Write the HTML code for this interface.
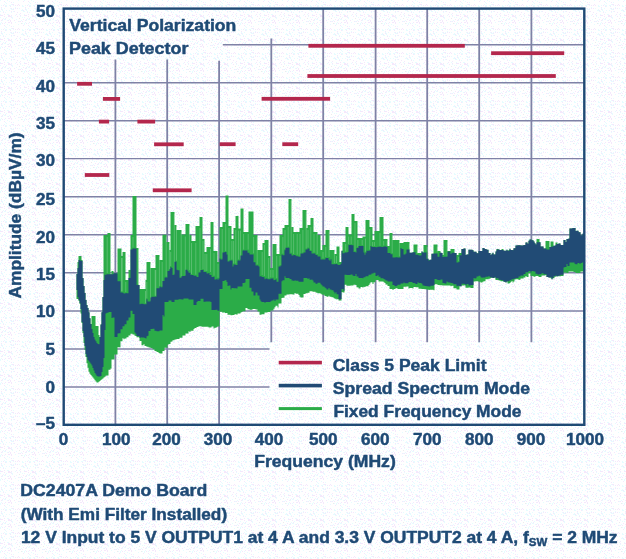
<!DOCTYPE html>
<html><head><meta charset="utf-8"><title>EMI chart</title>
<style>
html,body{margin:0;padding:0;background:#fcfdfe;}
body{width:626px;height:559px;position:relative;overflow:hidden;font-family:"Liberation Sans",Arial,Helvetica,sans-serif;}
svg text{white-space:pre}
</style></head><body>
<svg width="626" height="559" viewBox="0 0 626 559" style="position:absolute;left:0;top:0">
<defs><pattern id="dith" width="24" height="24" patternUnits="userSpaceOnUse"><rect width="24" height="24" fill="#ffffff"/><rect x="19" y="8" width="1" height="1" fill="#e6fcff"/><rect x="23" y="11" width="1" height="1" fill="#e6fcff"/><rect x="22" y="23" width="1" height="1" fill="#e6fcff"/><rect x="20" y="16" width="1" height="1" fill="#e6fcff"/><rect x="0" y="14" width="1" height="1" fill="#e6fcff"/><rect x="7" y="20" width="1" height="1" fill="#e6fcff"/><rect x="1" y="5" width="1" height="1" fill="#e6fcff"/><rect x="3" y="11" width="1" height="1" fill="#e6fcff"/><rect x="15" y="7" width="1" height="1" fill="#e6fcff"/><rect x="12" y="17" width="1" height="1" fill="#e6fcff"/><rect x="3" y="18" width="1" height="1" fill="#e6fcff"/><rect x="7" y="0" width="1" height="1" fill="#e6fcff"/><rect x="23" y="6" width="1" height="1" fill="#e6fcff"/><rect x="13" y="8" width="1" height="1" fill="#e6fcff"/><rect x="5" y="12" width="1" height="1" fill="#e6fcff"/><rect x="5" y="2" width="1" height="1" fill="#e6fcff"/><rect x="4" y="19" width="1" height="1" fill="#e6fcff"/><rect x="19" y="14" width="1" height="1" fill="#e6fcff"/><rect x="4" y="4" width="1" height="1" fill="#e6fcff"/><rect x="0" y="0" width="1" height="1" fill="#e6fcff"/><rect x="6" y="6" width="1" height="1" fill="#e6fcff"/><rect x="5" y="5" width="1" height="1" fill="#e6fcff"/><rect x="9" y="10" width="1" height="1" fill="#e6fcff"/><rect x="6" y="17" width="1" height="1" fill="#e6fcff"/><rect x="21" y="20" width="1" height="1" fill="#e6fcff"/><rect x="6" y="5" width="1" height="1" fill="#e6fcff"/><rect x="22" y="6" width="1" height="1" fill="#e6fcff"/><rect x="12" y="9" width="1" height="1" fill="#e6fcff"/><rect x="0" y="11" width="1" height="1" fill="#e6fcff"/><rect x="13" y="5" width="1" height="1" fill="#e6fcff"/><rect x="4" y="8" width="1" height="1" fill="#e6fcff"/><rect x="2" y="10" width="1" height="1" fill="#e6fcff"/><rect x="9" y="19" width="1" height="1" fill="#e6fcff"/><rect x="18" y="0" width="1" height="1" fill="#e6fcff"/><rect x="19" y="21" width="1" height="1" fill="#e6fcff"/><rect x="22" y="10" width="1" height="1" fill="#e6fcff"/><rect x="2" y="9" width="1" height="1" fill="#e6fcff"/><rect x="11" y="9" width="1" height="1" fill="#e6fcff"/><rect x="15" y="22" width="1" height="1" fill="#e6fcff"/><rect x="10" y="5" width="1" height="1" fill="#e6fcff"/><rect x="15" y="15" width="1" height="1" fill="#e6fcff"/><rect x="22" y="5" width="1" height="1" fill="#e6fcff"/><rect x="1" y="8" width="1" height="1" fill="#e6fcff"/><rect x="0" y="23" width="1" height="1" fill="#e6fcff"/><rect x="11" y="12" width="1" height="1" fill="#e6fcff"/><rect x="0" y="17" width="1" height="1" fill="#e6fcff"/><rect x="13" y="11" width="1" height="1" fill="#e6fcff"/><rect x="12" y="18" width="1" height="1" fill="#e6fcff"/><rect x="1" y="22" width="1" height="1" fill="#e6fcff"/><rect x="5" y="19" width="1" height="1" fill="#e6fcff"/><rect x="6" y="3" width="1" height="1" fill="#e6fcff"/><rect x="7" y="14" width="1" height="1" fill="#e6fcff"/><rect x="11" y="16" width="1" height="1" fill="#e6fcff"/><rect x="8" y="14" width="1" height="1" fill="#e6fcff"/><rect x="9" y="1" width="1" height="1" fill="#e6fcff"/><rect x="13" y="2" width="1" height="1" fill="#e6fcff"/><rect x="6" y="10" width="1" height="1" fill="#e6fcff"/><rect x="16" y="19" width="1" height="1" fill="#e6fcff"/><rect x="11" y="4" width="1" height="1" fill="#e6fcff"/><rect x="10" y="8" width="1" height="1" fill="#e6fcff"/><rect x="22" y="17" width="1" height="1" fill="#e6fcff"/><rect x="21" y="10" width="1" height="1" fill="#e6fcff"/><rect x="9" y="5" width="1" height="1" fill="#e6fcff"/><rect x="2" y="20" width="1" height="1" fill="#e6fcff"/><rect x="4" y="23" width="1" height="1" fill="#e6fcff"/><rect x="22" y="9" width="1" height="1" fill="#e6fcff"/><rect x="15" y="5" width="1" height="1" fill="#f4e8fc"/><rect x="23" y="1" width="1" height="1" fill="#f4e8fc"/><rect x="2" y="19" width="1" height="1" fill="#f4e8fc"/><rect x="17" y="12" width="1" height="1" fill="#f4e8fc"/><rect x="1" y="7" width="1" height="1" fill="#f4e8fc"/><rect x="23" y="19" width="1" height="1" fill="#f4e8fc"/><rect x="11" y="8" width="1" height="1" fill="#f4e8fc"/><rect x="14" y="20" width="1" height="1" fill="#f4e8fc"/><rect x="13" y="4" width="1" height="1" fill="#f4e8fc"/><rect x="1" y="20" width="1" height="1" fill="#f4e8fc"/><rect x="1" y="15" width="1" height="1" fill="#f4e8fc"/><rect x="10" y="6" width="1" height="1" fill="#f4e8fc"/><rect x="18" y="4" width="1" height="1" fill="#f4e8fc"/><rect x="20" y="13" width="1" height="1" fill="#f4e8fc"/><rect x="3" y="5" width="1" height="1" fill="#f4e8fc"/><rect x="4" y="1" width="1" height="1" fill="#f4e8fc"/><rect x="13" y="9" width="1" height="1" fill="#f4e8fc"/><rect x="4" y="14" width="1" height="1" fill="#f4e8fc"/><rect x="19" y="5" width="1" height="1" fill="#f4e8fc"/><rect x="16" y="14" width="1" height="1" fill="#f4e8fc"/><rect x="23" y="10" width="1" height="1" fill="#f4e8fc"/><rect x="15" y="8" width="1" height="1" fill="#f4e8fc"/><rect x="9" y="15" width="1" height="1" fill="#f4e8fc"/><rect x="12" y="4" width="1" height="1" fill="#f4e8fc"/><rect x="3" y="12" width="1" height="1" fill="#f4e8fc"/><rect x="17" y="5" width="1" height="1" fill="#f4e8fc"/><rect x="20" y="15" width="1" height="1" fill="#f4e8fc"/><rect x="2" y="15" width="1" height="1" fill="#f4e8fc"/><rect x="8" y="16" width="1" height="1" fill="#f4e8fc"/><rect x="17" y="16" width="1" height="1" fill="#f4e8fc"/><rect x="11" y="2" width="1" height="1" fill="#f4e8fc"/><rect x="11" y="22" width="1" height="1" fill="#f4e8fc"/><rect x="18" y="21" width="1" height="1" fill="#f4e8fc"/><rect x="1" y="9" width="1" height="1" fill="#f4e8fc"/><rect x="11" y="17" width="1" height="1" fill="#f4e8fc"/><rect x="22" y="21" width="1" height="1" fill="#f4e8fc"/><rect x="8" y="15" width="1" height="1" fill="#f4e8fc"/><rect x="8" y="22" width="1" height="1" fill="#f4e8fc"/><rect x="10" y="20" width="1" height="1" fill="#f4e8fc"/><rect x="5" y="18" width="1" height="1" fill="#f4e8fc"/><rect x="0" y="15" width="1" height="1" fill="#f4e8fc"/><rect x="17" y="8" width="1" height="1" fill="#f4e8fc"/><rect x="10" y="21" width="1" height="1" fill="#f4e8fc"/><rect x="9" y="16" width="1" height="1" fill="#f4e8fc"/><rect x="20" y="21" width="1" height="1" fill="#f4e8fc"/><rect x="11" y="11" width="1" height="1" fill="#f4e8fc"/><rect x="8" y="20" width="1" height="1" fill="#f4e8fc"/><rect x="11" y="23" width="1" height="1" fill="#f4e8fc"/><rect x="5" y="22" width="1" height="1" fill="#f4e8fc"/><rect x="14" y="11" width="1" height="1" fill="#f4e8fc"/><rect x="10" y="16" width="1" height="1" fill="#f4e8fc"/><rect x="4" y="16" width="1" height="1" fill="#f4e8fc"/><rect x="5" y="6" width="1" height="1" fill="#f4e8fc"/><rect x="11" y="15" width="1" height="1" fill="#f4e8fc"/><rect x="9" y="22" width="1" height="1" fill="#f4e8fc"/><rect x="2" y="23" width="1" height="1" fill="#f4e8fc"/><rect x="21" y="23" width="1" height="1" fill="#ececec"/><rect x="19" y="18" width="1" height="1" fill="#ececec"/></pattern></defs><rect width="626" height="559" fill="url(#dith)" shape-rendering="crispEdges"/>
<line x1="115.4" y1="59.5" x2="115.4" y2="424.8" stroke="#7f82a6" stroke-width="1.8"/>
<line x1="167.2" y1="59.5" x2="167.2" y2="424.8" stroke="#7f82a6" stroke-width="1.8"/>
<line x1="219.1" y1="60.7" x2="219.1" y2="424.8" stroke="#7f82a6" stroke-width="1.8"/>
<line x1="271.3" y1="38.4" x2="271.3" y2="342.2" stroke="#7f82a6" stroke-width="1.8"/>
<line x1="323.2" y1="8.6" x2="323.2" y2="342.2" stroke="#7f82a6" stroke-width="1.8"/>
<line x1="375.6" y1="8.6" x2="375.6" y2="342.2" stroke="#7f82a6" stroke-width="1.8"/>
<line x1="427.2" y1="8.6" x2="427.2" y2="342.2" stroke="#7f82a6" stroke-width="1.8"/>
<line x1="479.2" y1="8.6" x2="479.2" y2="342.2" stroke="#7f82a6" stroke-width="1.8"/>
<line x1="531.4" y1="8.6" x2="531.4" y2="342.2" stroke="#7f82a6" stroke-width="1.8"/>
<line x1="222.8" y1="44.7" x2="584.3" y2="44.7" stroke="#7f82a6" stroke-width="1.4"/>
<line x1="63.7" y1="82.8" x2="584.3" y2="82.8" stroke="#7f82a6" stroke-width="1.4"/>
<line x1="63.7" y1="120.7" x2="584.3" y2="120.7" stroke="#7f82a6" stroke-width="1.4"/>
<line x1="63.7" y1="158.6" x2="584.3" y2="158.6" stroke="#7f82a6" stroke-width="1.4"/>
<line x1="63.7" y1="196.7" x2="584.3" y2="196.7" stroke="#7f82a6" stroke-width="1.4"/>
<line x1="63.7" y1="234.7" x2="584.3" y2="234.7" stroke="#7f82a6" stroke-width="1.4"/>
<line x1="63.7" y1="272.8" x2="584.3" y2="272.8" stroke="#7f82a6" stroke-width="1.4"/>
<line x1="63.7" y1="311.0" x2="584.3" y2="311.0" stroke="#7f82a6" stroke-width="1.4"/>
<line x1="63.7" y1="349.0" x2="269.5" y2="349.0" stroke="#7f82a6" stroke-width="1.4"/>
<line x1="63.7" y1="387.0" x2="269.5" y2="387.0" stroke="#7f82a6" stroke-width="1.4"/>
<polygon points="76.5,274.0 77.5,274.0 77.5,262.0 78.5,262.0 78.5,256.0 79.5,256.0 79.5,256.0 80.5,256.0 80.5,256.0 81.5,256.0 81.5,260.0 82.5,260.0 82.5,278.0 83.5,278.0 83.5,286.0 84.5,286.0 84.5,293.0 85.5,293.0 85.5,300.0 86.5,300.0 86.5,305.0 87.5,305.0 87.5,308.1 88.5,308.1 88.5,312.3 89.5,312.3 89.5,318.2 90.5,318.2 90.5,324.1 91.5,324.1 91.5,316.0 92.5,316.0 92.5,316.0 93.5,316.0 93.5,316.0 94.5,316.0 94.5,316.0 95.5,316.0 95.5,326.0 96.5,326.0 96.5,326.0 97.5,326.0 97.5,326.0 98.5,326.0 98.5,335.0 99.5,335.0 99.5,337.0 100.5,337.0 100.5,324.4 101.5,324.4 101.5,312.3 102.5,312.3 102.5,297.0 103.5,297.0 103.5,235.0 104.5,235.0 104.5,235.0 105.5,235.0 105.5,235.0 106.5,235.0 106.5,235.0 107.5,235.0 107.5,233.0 108.5,233.0 108.5,233.0 109.5,233.0 109.5,233.0 110.5,233.0 110.5,274.2 111.5,274.2 111.5,271.0 112.5,271.0 112.5,271.0 113.5,271.0 113.5,273.2 114.5,273.2 114.5,273.2 115.5,273.2 115.5,273.2 116.5,273.2 116.5,273.2 117.5,273.2 117.5,248.5 118.5,248.5 118.5,248.5 119.5,248.5 119.5,248.5 120.5,248.5 120.5,248.5 121.5,248.5 121.5,256.0 122.5,256.0 122.5,252.0 123.5,252.0 123.5,252.0 124.5,252.0 124.5,252.0 125.5,252.0 125.5,280.0 126.5,280.0 126.5,280.0 127.5,280.0 127.5,280.0 128.5,280.0 128.5,270.0 129.5,270.0 129.5,270.0 130.5,270.0 130.5,235.0 131.5,235.0 131.5,235.0 132.5,235.0 132.5,196.0 133.5,196.0 133.5,196.0 134.5,196.0 134.5,196.0 135.5,196.0 135.5,196.0 136.5,196.0 136.5,248.0 137.5,248.0 137.5,248.0 138.5,248.0 138.5,285.0 139.5,285.0 139.5,289.0 140.5,289.0 140.5,289.0 141.5,289.0 141.5,289.0 142.5,289.0 142.5,289.0 143.5,289.0 143.5,289.0 144.5,289.0 144.5,289.0 145.5,289.0 145.5,280.0 146.5,280.0 146.5,262.0 147.5,262.0 147.5,262.0 148.5,262.0 148.5,262.0 149.5,262.0 149.5,262.0 150.5,262.0 150.5,268.0 151.5,268.0 151.5,268.0 152.5,268.0 152.5,268.0 153.5,268.0 153.5,268.0 154.5,268.0 154.5,268.0 155.5,268.0 155.5,255.0 156.5,255.0 156.5,255.0 157.5,255.0 157.5,255.0 158.5,255.0 158.5,255.0 159.5,255.0 159.5,260.0 160.5,260.0 160.5,260.0 161.5,260.0 161.5,260.0 162.5,260.0 162.5,234.7 163.5,234.7 163.5,234.7 164.5,234.7 164.5,234.7 165.5,234.7 165.5,234.7 166.5,234.7 166.5,242.0 167.5,242.0 167.5,242.0 168.5,242.0 168.5,242.0 169.5,242.0 169.5,250.0 170.5,250.0 170.5,212.0 171.5,212.0 171.5,212.0 172.5,212.0 172.5,212.0 173.5,212.0 173.5,212.0 174.5,212.0 174.5,225.0 175.5,225.0 175.5,225.0 176.5,225.0 176.5,230.0 177.5,230.0 177.5,230.0 178.5,230.0 178.5,230.0 179.5,230.0 179.5,230.0 180.5,230.0 180.5,230.0 181.5,230.0 181.5,234.5 182.5,234.5 182.5,234.5 183.5,234.5 183.5,234.5 184.5,234.5 184.5,234.5 185.5,234.5 185.5,224.0 186.5,224.0 186.5,224.0 187.5,224.0 187.5,224.0 188.5,224.0 188.5,224.0 189.5,224.0 189.5,235.0 190.5,235.0 190.5,235.0 191.5,235.0 191.5,241.0 192.5,241.0 192.5,241.0 193.5,241.0 193.5,241.0 194.5,241.0 194.5,241.0 195.5,241.0 195.5,226.0 196.5,226.0 196.5,226.0 197.5,226.0 197.5,226.0 198.5,226.0 198.5,226.0 199.5,226.0 199.5,217.0 200.5,217.0 200.5,217.0 201.5,217.0 201.5,217.0 202.5,217.0 202.5,239.0 203.5,239.0 203.5,239.0 204.5,239.0 204.5,252.0 205.5,252.0 205.5,252.0 206.5,252.0 206.5,247.0 207.5,247.0 207.5,247.0 208.5,247.0 208.5,247.0 209.5,247.0 209.5,247.0 210.5,247.0 210.5,222.0 211.5,222.0 211.5,222.0 212.5,222.0 212.5,222.0 213.5,222.0 213.5,251.0 214.5,251.0 214.5,251.0 215.5,251.0 215.5,251.0 216.5,251.0 216.5,251.0 217.5,251.0 217.5,262.0 218.5,262.0 218.5,262.0 219.5,262.0 219.5,227.0 220.5,227.0 220.5,227.0 221.5,227.0 221.5,227.0 222.5,227.0 222.5,222.0 223.5,222.0 223.5,222.0 224.5,222.0 224.5,222.0 225.5,222.0 225.5,195.5 226.5,195.5 226.5,195.5 227.5,195.5 227.5,195.5 228.5,195.5 228.5,226.0 229.5,226.0 229.5,226.0 230.5,226.0 230.5,226.0 231.5,226.0 231.5,239.0 232.5,239.0 232.5,239.0 233.5,239.0 233.5,228.0 234.5,228.0 234.5,228.0 235.5,228.0 235.5,216.0 236.5,216.0 236.5,216.0 237.5,216.0 237.5,216.0 238.5,216.0 238.5,228.6 239.5,228.6 239.5,228.6 240.5,228.6 240.5,208.6 241.5,208.6 241.5,208.6 242.5,208.6 242.5,208.6 243.5,208.6 243.5,232.0 244.5,232.0 244.5,232.0 245.5,232.0 245.5,232.0 246.5,232.0 246.5,232.0 247.5,232.0 247.5,232.0 248.5,232.0 248.5,211.5 249.5,211.5 249.5,211.5 250.5,211.5 250.5,211.5 251.5,211.5 251.5,211.5 252.5,211.5 252.5,211.5 253.5,211.5 253.5,235.0 254.5,235.0 254.5,235.0 255.5,235.0 255.5,235.0 256.5,235.0 256.5,235.0 257.5,235.0 257.5,250.0 258.5,250.0 258.5,250.0 259.5,250.0 259.5,250.0 260.5,250.0 260.5,250.0 261.5,250.0 261.5,250.0 262.5,250.0 262.5,243.0 263.5,243.0 263.5,243.0 264.5,243.0 264.5,240.0 265.5,240.0 265.5,240.0 266.5,240.0 266.5,240.0 267.5,240.0 267.5,240.0 268.5,240.0 268.5,256.0 269.5,256.0 269.5,256.0 270.5,256.0 270.5,268.0 271.5,268.0 271.5,268.0 272.5,268.0 272.5,244.0 273.5,244.0 273.5,244.0 274.5,244.0 274.5,244.0 275.5,244.0 275.5,244.0 276.5,244.0 276.5,254.0 277.5,254.0 277.5,254.0 278.5,254.0 278.5,254.0 279.5,254.0 279.5,235.0 280.5,235.0 280.5,235.0 281.5,235.0 281.5,235.0 282.5,235.0 282.5,228.0 283.5,228.0 283.5,228.0 284.5,228.0 284.5,225.0 285.5,225.0 285.5,225.0 286.5,225.0 286.5,225.0 287.5,225.0 287.5,225.0 288.5,225.0 288.5,199.0 289.5,199.0 289.5,199.0 290.5,199.0 290.5,199.0 291.5,199.0 291.5,227.0 292.5,227.0 292.5,227.0 293.5,227.0 293.5,232.0 294.5,232.0 294.5,232.0 295.5,232.0 295.5,232.0 296.5,232.0 296.5,232.0 297.5,232.0 297.5,232.0 298.5,232.0 298.5,232.0 299.5,232.0 299.5,228.0 300.5,228.0 300.5,228.0 301.5,228.0 301.5,228.0 302.5,228.0 302.5,210.0 303.5,210.0 303.5,210.0 304.5,210.0 304.5,210.0 305.5,210.0 305.5,210.0 306.5,210.0 306.5,228.0 307.5,228.0 307.5,225.0 308.5,225.0 308.5,225.0 309.5,225.0 309.5,225.0 310.5,225.0 310.5,218.0 311.5,218.0 311.5,218.0 312.5,218.0 312.5,218.0 313.5,218.0 313.5,232.0 314.5,232.0 314.5,232.0 315.5,232.0 315.5,232.0 316.5,232.0 316.5,232.0 317.5,232.0 317.5,235.0 318.5,235.0 318.5,235.0 319.5,235.0 319.5,235.0 320.5,235.0 320.5,250.0 321.5,250.0 321.5,250.0 322.5,250.0 322.5,245.0 323.5,245.0 323.5,245.0 324.5,245.0 324.5,245.0 325.5,245.0 325.5,230.0 326.5,230.0 326.5,230.0 327.5,230.0 327.5,230.0 328.5,230.0 328.5,230.0 329.5,230.0 329.5,250.0 330.5,250.0 330.5,250.0 331.5,250.0 331.5,250.0 332.5,250.0 332.5,250.0 333.5,250.0 333.5,250.0 334.5,250.0 334.5,254.0 335.5,254.0 335.5,254.0 336.5,254.0 336.5,246.5 337.5,246.5 337.5,246.5 338.5,246.5 338.5,246.5 339.5,246.5 339.5,262.0 340.5,262.0 340.5,262.0 341.5,262.0 341.5,250.7 342.5,250.7 342.5,242.0 343.5,242.0 343.5,242.0 344.5,242.0 344.5,242.0 345.5,242.0 345.5,227.0 346.5,227.0 346.5,227.0 347.5,227.0 347.5,227.0 348.5,227.0 348.5,234.5 349.5,234.5 349.5,234.5 350.5,234.5 350.5,234.5 351.5,234.5 351.5,214.0 352.5,214.0 352.5,214.0 353.5,214.0 353.5,214.0 354.5,214.0 354.5,221.0 355.5,221.0 355.5,221.0 356.5,221.0 356.5,221.0 357.5,221.0 357.5,238.0 358.5,238.0 358.5,238.0 359.5,238.0 359.5,238.0 360.5,238.0 360.5,238.0 361.5,238.0 361.5,238.0 362.5,238.0 362.5,236.5 363.5,236.5 363.5,236.5 364.5,236.5 364.5,236.5 365.5,236.5 365.5,220.0 366.5,220.0 366.5,220.0 367.5,220.0 367.5,220.0 368.5,220.0 368.5,220.0 369.5,220.0 369.5,227.0 370.5,227.0 370.5,227.0 371.5,227.0 371.5,227.0 372.5,227.0 372.5,240.0 373.5,240.0 373.5,240.0 374.5,240.0 374.5,231.0 375.5,231.0 375.5,231.0 376.5,231.0 376.5,231.0 377.5,231.0 377.5,231.0 378.5,231.0 378.5,231.0 379.5,231.0 379.5,217.0 380.5,217.0 380.5,217.0 381.5,217.0 381.5,217.0 382.5,217.0 382.5,217.0 383.5,217.0 383.5,239.0 384.5,239.0 384.5,239.0 385.5,239.0 385.5,239.0 386.5,239.0 386.5,239.0 387.5,239.0 387.5,246.0 388.5,246.0 388.5,246.0 389.5,246.0 389.5,233.0 390.5,233.0 390.5,233.0 391.5,233.0 391.5,233.0 392.5,233.0 392.5,240.0 393.5,240.0 393.5,240.0 394.5,240.0 394.5,240.0 395.5,240.0 395.5,240.0 396.5,240.0 396.5,240.0 397.5,240.0 397.5,240.0 398.5,240.0 398.5,240.0 399.5,240.0 399.5,243.0 400.5,243.0 400.5,243.0 401.5,243.0 401.5,243.0 402.5,243.0 402.5,243.0 403.5,243.0 403.5,242.0 404.5,242.0 404.5,242.0 405.5,242.0 405.5,242.0 406.5,242.0 406.5,242.0 407.5,242.0 407.5,242.0 408.5,242.0 408.5,242.0 409.5,242.0 409.5,252.7 410.5,252.7 410.5,252.7 411.5,252.7 411.5,252.8 412.5,252.8 412.5,252.3 413.5,252.3 413.5,244.5 414.5,244.5 414.5,244.5 415.5,244.5 415.5,244.5 416.5,244.5 416.5,244.5 417.5,244.5 417.5,253.0 418.5,253.0 418.5,253.0 419.5,253.0 419.5,253.0 420.5,253.0 420.5,253.0 421.5,253.0 421.5,251.5 422.5,251.5 422.5,252.6 423.5,252.6 423.5,245.0 424.5,245.0 424.5,245.0 425.5,245.0 425.5,245.0 426.5,245.0 426.5,245.0 427.5,245.0 427.5,258.8 428.5,258.8 428.5,260.0 429.5,260.0 429.5,259.7 430.5,259.7 430.5,259.7 431.5,259.7 431.5,253.7 432.5,253.7 432.5,253.7 433.5,253.7 433.5,244.5 434.5,244.5 434.5,244.5 435.5,244.5 435.5,244.5 436.5,244.5 436.5,244.5 437.5,244.5 437.5,251.0 438.5,251.0 438.5,251.0 439.5,251.0 439.5,251.0 440.5,251.0 440.5,252.7 441.5,252.7 441.5,253.1 442.5,253.1 442.5,255.0 443.5,255.0 443.5,240.0 444.5,240.0 444.5,240.0 445.5,240.0 445.5,240.0 446.5,240.0 446.5,240.0 447.5,240.0 447.5,251.0 448.5,251.0 448.5,251.0 449.5,251.0 449.5,251.0 450.5,251.0 450.5,249.0 451.5,249.0 451.5,249.0 452.5,249.0 452.5,249.0 453.5,249.0 453.5,249.0 454.5,249.0 454.5,253.1 455.5,253.1 455.5,253.1 456.5,253.1 456.5,255.0 457.5,255.0 457.5,255.0 458.5,255.0 458.5,253.0 459.5,253.0 459.5,253.0 460.5,253.0 460.5,253.0 461.5,253.0 461.5,249.0 462.5,249.0 462.5,249.0 463.5,249.0 463.5,248.5 464.5,248.5 464.5,248.5 465.5,248.5 465.5,255.0 466.5,255.0 466.5,254.4 467.5,254.4 467.5,254.4 468.5,254.4 468.5,249.7 469.5,249.7 469.5,249.7 470.5,249.7 470.5,249.7 471.5,249.7 471.5,249.7 472.5,249.7 472.5,250.3 473.5,250.3 473.5,251.8 474.5,251.8 474.5,251.8 475.5,251.8 475.5,251.8 476.5,251.8 476.5,253.2 477.5,253.2 477.5,253.2 478.5,253.2 478.5,251.1 479.5,251.1 479.5,251.1 480.5,251.1 480.5,251.1 481.5,251.1 481.5,251.1 482.5,251.1 482.5,248.1 483.5,248.1 483.5,248.1 484.5,248.1 484.5,249.0 485.5,249.0 485.5,249.0 486.5,249.0 486.5,249.7 487.5,249.7 487.5,249.7 488.5,249.7 488.5,253.0 489.5,253.0 489.5,253.0 490.5,253.0 490.5,255.0 491.5,255.0 491.5,253.8 492.5,253.8 492.5,252.8 493.5,252.8 493.5,254.4 494.5,254.4 494.5,254.4 495.5,254.4 495.5,251.4 496.5,251.4 496.5,249.0 497.5,249.0 497.5,249.0 498.5,249.0 498.5,249.6 499.5,249.6 499.5,250.0 500.5,250.0 500.5,250.0 501.5,250.0 501.5,249.0 502.5,249.0 502.5,249.0 503.5,249.0 503.5,250.7 504.5,250.7 504.5,250.7 505.5,250.7 505.5,250.7 506.5,250.7 506.5,249.8 507.5,249.8 507.5,250.8 508.5,250.8 508.5,250.0 509.5,250.0 509.5,248.8 510.5,248.8 510.5,250.1 511.5,250.1 511.5,250.1 512.5,250.1 512.5,250.2 513.5,250.2 513.5,248.2 514.5,248.2 514.5,248.2 515.5,248.2 515.5,245.6 516.5,245.6 516.5,245.6 517.5,245.6 517.5,245.2 518.5,245.2 518.5,245.2 519.5,245.2 519.5,245.2 520.5,245.2 520.5,245.5 521.5,245.5 521.5,245.5 522.5,245.5 522.5,245.5 523.5,245.5 523.5,245.0 524.5,245.0 524.5,245.0 525.5,245.0 525.5,242.5 526.5,242.5 526.5,242.5 527.5,242.5 527.5,243.7 528.5,243.7 528.5,240.7 529.5,240.7 529.5,239.5 530.5,239.5 530.5,239.5 531.5,239.5 531.5,240.2 532.5,240.2 532.5,240.2 533.5,240.2 533.5,241.4 534.5,241.4 534.5,243.2 535.5,243.2 535.5,244.4 536.5,244.4 536.5,239.0 537.5,239.0 537.5,239.0 538.5,239.0 538.5,239.0 539.5,239.0 539.5,242.3 540.5,242.3 540.5,246.4 541.5,246.4 541.5,246.4 542.5,246.4 542.5,246.4 543.5,246.4 543.5,248.4 544.5,248.4 544.5,248.4 545.5,248.4 545.5,241.0 546.5,241.0 546.5,241.0 547.5,241.0 547.5,241.0 548.5,241.0 548.5,241.0 549.5,241.0 549.5,247.0 550.5,247.0 550.5,241.5 551.5,241.5 551.5,241.5 552.5,241.5 552.5,241.5 553.5,241.5 553.5,245.7 554.5,245.7 554.5,245.7 555.5,245.7 555.5,242.5 556.5,242.5 556.5,242.5 557.5,242.5 557.5,243.9 558.5,243.9 558.5,243.4 559.5,243.4 559.5,243.4 560.5,243.4 560.5,245.1 561.5,245.1 561.5,245.1 562.5,245.1 562.5,245.1 563.5,245.1 563.5,240.0 564.5,240.0 564.5,240.0 565.5,240.0 565.5,241.9 566.5,241.9 566.5,238.9 567.5,238.9 567.5,238.9 568.5,238.9 568.5,238.6 569.5,238.6 569.5,228.6 570.5,228.6 570.5,228.6 571.5,228.6 571.5,228.6 572.5,228.6 572.5,228.0 573.5,228.0 573.5,228.0 574.5,228.0 574.5,228.0 575.5,228.0 575.5,231.0 576.5,231.0 576.5,230.7 577.5,230.7 577.5,230.7 578.5,230.7 578.5,232.3 579.5,232.3 579.5,232.3 580.5,232.3 580.5,235.3 581.5,235.3 581.5,235.3 582.5,235.3 582.5,233.7 583.5,233.7 583.5,233.7 584.5,233.7 584.5,273.0 583.5,273.0 583.5,271.5 582.5,271.5 582.5,271.5 581.5,271.5 581.5,271.5 580.5,271.5 580.5,273.0 579.5,273.0 579.5,273.0 578.5,273.0 578.5,273.0 577.5,273.0 577.5,272.9 576.5,272.9 576.5,272.9 575.5,272.9 575.5,271.9 574.5,271.9 574.5,271.9 573.5,271.9 573.5,271.4 572.5,271.4 572.5,271.4 571.5,271.4 571.5,271.4 570.5,271.4 570.5,271.4 569.5,271.4 569.5,271.4 568.5,271.4 568.5,272.9 567.5,272.9 567.5,272.9 566.5,272.9 566.5,272.4 565.5,272.4 565.5,272.4 564.5,272.4 564.5,272.4 563.5,272.4 563.5,275.9 562.5,275.9 562.5,275.9 561.5,275.9 561.5,275.9 560.5,275.9 560.5,276.4 559.5,276.4 559.5,275.8 558.5,275.8 558.5,276.2 557.5,276.2 557.5,276.2 556.5,276.2 556.5,276.4 555.5,276.4 555.5,276.7 554.5,276.7 554.5,278.2 553.5,278.2 553.5,278.2 552.5,278.2 552.5,279.2 551.5,279.2 551.5,278.2 550.5,278.2 550.5,277.6 549.5,277.6 549.5,277.6 548.5,277.6 548.5,277.1 547.5,277.1 547.5,277.1 546.5,277.1 546.5,275.0 545.5,275.0 545.5,275.6 544.5,275.6 544.5,275.6 543.5,275.6 543.5,275.6 542.5,275.6 542.5,275.6 541.5,275.6 541.5,277.1 540.5,277.1 540.5,277.1 539.5,277.1 539.5,277.1 538.5,277.1 538.5,276.1 537.5,276.1 537.5,276.1 536.5,276.1 536.5,276.1 535.5,276.1 535.5,276.7 534.5,276.7 534.5,276.7 533.5,276.7 533.5,276.0 532.5,276.0 532.5,276.0 531.5,276.0 531.5,276.0 530.5,276.0 530.5,273.3 529.5,273.3 529.5,273.3 528.5,273.3 528.5,276.9 527.5,276.9 527.5,276.9 526.5,276.9 526.5,276.1 525.5,276.1 525.5,277.5 524.5,277.5 524.5,277.5 523.5,277.5 523.5,278.5 522.5,278.5 522.5,278.5 521.5,278.5 521.5,278.5 520.5,278.5 520.5,279.8 519.5,279.8 519.5,280.0 518.5,280.0 518.5,279.2 517.5,279.2 517.5,279.2 516.5,279.2 516.5,279.2 515.5,279.2 515.5,279.5 514.5,279.5 514.5,281.4 513.5,281.4 513.5,282.4 512.5,282.4 512.5,281.1 511.5,281.1 511.5,281.9 510.5,281.9 510.5,283.0 509.5,283.0 509.5,283.5 508.5,283.5 508.5,283.5 507.5,283.5 507.5,281.5 506.5,281.5 506.5,282.5 505.5,282.5 505.5,281.7 504.5,281.7 504.5,281.7 503.5,281.7 503.5,280.9 502.5,280.9 502.5,281.2 501.5,281.2 501.5,281.2 500.5,281.2 500.5,280.6 499.5,280.6 499.5,280.6 498.5,280.6 498.5,279.9 497.5,279.9 497.5,279.9 496.5,279.9 496.5,279.9 495.5,279.9 495.5,277.5 494.5,277.5 494.5,277.9 493.5,277.9 493.5,277.9 492.5,277.9 492.5,277.5 491.5,277.5 491.5,278.1 490.5,278.1 490.5,278.8 489.5,278.8 489.5,278.8 488.5,278.8 488.5,279.3 487.5,279.3 487.5,279.3 486.5,279.3 486.5,279.3 485.5,279.3 485.5,281.3 484.5,281.3 484.5,281.3 483.5,281.3 483.5,281.7 482.5,281.7 482.5,282.4 481.5,282.4 481.5,282.4 480.5,282.4 480.5,281.7 479.5,281.7 479.5,281.7 478.5,281.7 478.5,281.2 477.5,281.2 477.5,281.2 476.5,281.2 476.5,281.2 475.5,281.2 475.5,281.6 474.5,281.6 474.5,281.6 473.5,281.6 473.5,287.9 472.5,287.9 472.5,287.9 471.5,287.9 471.5,287.9 470.5,287.9 470.5,287.4 469.5,287.4 469.5,287.4 468.5,287.4 468.5,287.7 467.5,287.7 467.5,287.7 466.5,287.7 466.5,287.7 465.5,287.7 465.5,285.2 464.5,285.2 464.5,285.6 463.5,285.6 463.5,285.6 462.5,285.6 462.5,285.6 461.5,285.6 461.5,286.3 460.5,286.3 460.5,286.3 459.5,286.3 459.5,289.6 458.5,289.6 458.5,289.6 457.5,289.6 457.5,289.6 456.5,289.6 456.5,288.3 455.5,288.3 455.5,288.3 454.5,288.3 454.5,288.3 453.5,288.3 453.5,285.7 452.5,285.7 452.5,285.7 451.5,285.7 451.5,286.2 450.5,286.2 450.5,285.6 449.5,285.6 449.5,285.6 448.5,285.6 448.5,285.6 447.5,285.6 447.5,285.4 446.5,285.4 446.5,285.4 445.5,285.4 445.5,285.4 444.5,285.4 444.5,285.4 443.5,285.4 443.5,285.4 442.5,285.4 442.5,285.2 441.5,285.2 441.5,285.2 440.5,285.2 440.5,285.2 439.5,285.2 439.5,285.0 438.5,285.0 438.5,285.0 437.5,285.0 437.5,284.3 436.5,284.3 436.5,284.3 435.5,284.3 435.5,284.3 434.5,284.3 434.5,290.3 433.5,290.3 433.5,289.8 432.5,289.8 432.5,289.8 431.5,289.8 431.5,289.8 430.5,289.8 430.5,289.8 429.5,289.8 429.5,289.9 428.5,289.9 428.5,289.4 427.5,289.4 427.5,289.4 426.5,289.4 426.5,289.2 425.5,289.2 425.5,289.2 424.5,289.2 424.5,289.0 423.5,289.0 423.5,289.0 422.5,289.0 422.5,289.0 421.5,289.0 421.5,288.8 420.5,288.8 420.5,288.8 419.5,288.8 419.5,288.8 418.5,288.8 418.5,287.3 417.5,287.3 417.5,287.3 416.5,287.3 416.5,287.3 415.5,287.3 415.5,287.0 414.5,287.0 414.5,287.0 413.5,287.0 413.5,288.4 412.5,288.4 412.5,288.1 411.5,288.1 411.5,288.1 410.5,288.1 410.5,288.1 409.5,288.1 409.5,288.6 408.5,288.6 408.5,286.4 407.5,286.4 407.5,286.4 406.5,286.4 406.5,286.8 405.5,286.8 405.5,286.8 404.5,286.8 404.5,286.8 403.5,286.8 403.5,289.0 402.5,289.0 402.5,289.0 401.5,289.0 401.5,289.0 400.5,289.0 400.5,288.9 399.5,288.9 399.5,288.9 398.5,288.9 398.5,288.9 397.5,288.9 397.5,288.3 396.5,288.3 396.5,288.3 395.5,288.3 395.5,288.9 394.5,288.9 394.5,288.9 393.5,288.9 393.5,290.1 392.5,290.1 392.5,289.1 391.5,289.1 391.5,289.1 390.5,289.1 390.5,289.1 389.5,289.1 389.5,286.1 388.5,286.1 388.5,286.1 387.5,286.1 387.5,284.4 386.5,284.4 386.5,284.4 385.5,284.4 385.5,283.1 384.5,283.1 384.5,282.3 383.5,282.3 383.5,281.5 382.5,281.5 382.5,281.5 381.5,281.5 381.5,281.5 380.5,281.5 380.5,281.4 379.5,281.4 379.5,281.4 378.5,281.4 378.5,280.1 377.5,280.1 377.5,280.1 376.5,280.1 376.5,280.1 375.5,280.1 375.5,282.2 374.5,282.2 374.5,282.2 373.5,282.2 373.5,284.0 372.5,284.0 372.5,282.2 371.5,282.2 371.5,282.2 370.5,282.2 370.5,283.4 369.5,283.4 369.5,285.0 368.5,285.0 368.5,286.2 367.5,286.2 367.5,286.2 366.5,286.2 366.5,286.2 365.5,286.2 365.5,287.0 364.5,287.0 364.5,286.7 363.5,286.7 363.5,287.6 362.5,287.6 362.5,287.0 361.5,287.0 361.5,287.0 360.5,287.0 360.5,288.6 359.5,288.6 359.5,288.6 358.5,288.6 358.5,287.2 357.5,287.2 357.5,287.2 356.5,287.2 356.5,285.1 355.5,285.1 355.5,284.8 354.5,284.8 354.5,284.8 353.5,284.8 353.5,285.4 352.5,285.4 352.5,285.4 351.5,285.4 351.5,285.4 350.5,285.4 350.5,285.8 349.5,285.8 349.5,285.8 348.5,285.8 348.5,285.8 347.5,285.8 347.5,285.8 346.5,285.8 346.5,284.8 345.5,284.8 345.5,284.8 344.5,284.8 344.5,292.5 343.5,292.5 343.5,292.5 342.5,292.5 342.5,292.0 341.5,292.0 341.5,300.5 340.5,300.5 340.5,300.5 339.5,300.5 339.5,300.5 338.5,300.5 338.5,299.0 337.5,299.0 337.5,299.4 336.5,299.4 336.5,298.7 335.5,298.7 335.5,298.7 334.5,298.7 334.5,298.0 333.5,298.0 333.5,297.2 332.5,297.2 332.5,297.2 331.5,297.2 331.5,296.8 330.5,296.8 330.5,296.8 329.5,296.8 329.5,295.8 328.5,295.8 328.5,296.8 327.5,296.8 327.5,296.8 326.5,296.8 326.5,296.0 325.5,296.0 325.5,296.0 324.5,296.0 324.5,294.8 323.5,294.8 323.5,294.8 322.5,294.8 322.5,294.4 321.5,294.4 321.5,293.8 320.5,293.8 320.5,293.2 319.5,293.2 319.5,293.2 318.5,293.2 318.5,293.2 317.5,293.2 317.5,292.8 316.5,292.8 316.5,292.4 315.5,292.4 315.5,291.8 314.5,291.8 314.5,291.8 313.5,291.8 313.5,291.8 312.5,291.8 312.5,291.2 311.5,291.2 311.5,291.2 310.5,291.2 310.5,291.2 309.5,291.2 309.5,292.8 308.5,292.8 308.5,292.8 307.5,292.8 307.5,293.3 306.5,293.3 306.5,293.3 305.5,293.3 305.5,293.9 304.5,293.9 304.5,293.9 303.5,293.9 303.5,297.4 302.5,297.4 302.5,297.4 301.5,297.4 301.5,297.4 300.5,297.4 300.5,296.7 299.5,296.7 299.5,295.0 298.5,295.0 298.5,293.8 297.5,293.8 297.5,293.8 296.5,293.8 296.5,293.8 295.5,293.8 295.5,293.0 294.5,293.0 294.5,294.4 293.5,294.4 293.5,294.4 292.5,294.4 292.5,294.2 291.5,294.2 291.5,294.2 290.5,294.2 290.5,294.2 289.5,294.2 289.5,294.4 288.5,294.4 288.5,294.4 287.5,294.4 287.5,294.4 286.5,294.4 286.5,295.5 285.5,295.5 285.5,295.5 284.5,295.5 284.5,297.7 283.5,297.7 283.5,297.7 282.5,297.7 282.5,297.9 281.5,297.9 281.5,303.6 280.5,303.6 280.5,303.6 279.5,303.6 279.5,303.6 278.5,303.6 278.5,307.4 277.5,307.4 277.5,305.7 276.5,305.7 276.5,305.7 275.5,305.7 275.5,307.2 274.5,307.2 274.5,308.8 273.5,308.8 273.5,310.6 272.5,310.6 272.5,310.6 271.5,310.6 271.5,310.5 270.5,310.5 270.5,311.9 269.5,311.9 269.5,311.9 268.5,311.9 268.5,311.9 267.5,311.9 267.5,312.4 266.5,312.4 266.5,312.4 265.5,312.4 265.5,312.4 264.5,312.4 264.5,314.2 263.5,314.2 263.5,314.2 262.5,314.2 262.5,314.2 261.5,314.2 261.5,314.7 260.5,314.7 260.5,314.7 259.5,314.7 259.5,311.4 258.5,311.4 258.5,311.4 257.5,311.4 257.5,309.5 256.5,309.5 256.5,309.5 255.5,309.5 255.5,309.0 254.5,309.0 254.5,309.0 253.5,309.0 253.5,309.0 252.5,309.0 252.5,309.8 251.5,309.8 251.5,309.8 250.5,309.8 250.5,309.8 249.5,309.8 249.5,309.2 248.5,309.2 248.5,309.2 247.5,309.2 247.5,307.9 246.5,307.9 246.5,307.9 245.5,307.9 245.5,311.3 244.5,311.3 244.5,311.3 243.5,311.3 243.5,311.3 242.5,311.3 242.5,312.1 241.5,312.1 241.5,312.4 240.5,312.4 240.5,313.6 239.5,313.6 239.5,313.6 238.5,313.6 238.5,313.6 237.5,313.6 237.5,314.8 236.5,314.8 236.5,314.2 235.5,314.2 235.5,314.2 234.5,314.2 234.5,314.9 233.5,314.9 233.5,314.9 232.5,314.9 232.5,315.3 231.5,315.3 231.5,315.3 230.5,315.3 230.5,314.7 229.5,314.7 229.5,314.7 228.5,314.7 228.5,314.7 227.5,314.7 227.5,313.1 226.5,313.1 226.5,313.1 225.5,313.1 225.5,313.1 224.5,313.1 224.5,312.0 223.5,312.0 223.5,313.1 222.5,313.1 222.5,311.8 221.5,311.8 221.5,311.8 220.5,311.8 220.5,311.8 219.5,311.8 219.5,326.5 218.5,326.5 218.5,326.5 217.5,326.5 217.5,327.1 216.5,327.1 216.5,327.7 215.5,327.7 215.5,327.7 214.5,327.7 214.5,328.4 213.5,328.4 213.5,326.4 212.5,326.4 212.5,326.4 211.5,326.4 211.5,327.5 210.5,327.5 210.5,327.5 209.5,327.5 209.5,327.5 208.5,327.5 208.5,326.7 207.5,326.7 207.5,326.7 206.5,326.7 206.5,326.8 205.5,326.8 205.5,326.8 204.5,326.8 204.5,326.8 203.5,326.8 203.5,326.8 202.5,326.8 202.5,326.8 201.5,326.8 201.5,326.2 200.5,326.2 200.5,326.2 199.5,326.2 199.5,326.2 198.5,326.2 198.5,327.0 197.5,327.0 197.5,327.0 196.5,327.0 196.5,328.1 195.5,328.1 195.5,328.1 194.5,328.1 194.5,328.9 193.5,328.9 193.5,330.7 192.5,330.7 192.5,330.7 191.5,330.7 191.5,330.7 190.5,330.7 190.5,331.9 189.5,331.9 189.5,331.2 188.5,331.2 188.5,333.6 187.5,333.6 187.5,333.6 186.5,333.6 186.5,333.6 185.5,333.6 185.5,335.6 184.5,335.6 184.5,335.6 183.5,335.6 183.5,335.6 182.5,335.6 182.5,337.7 181.5,337.7 181.5,337.7 180.5,337.7 180.5,337.7 179.5,337.7 179.5,338.9 178.5,338.9 178.5,339.1 177.5,339.1 177.5,339.1 176.5,339.1 176.5,339.5 175.5,339.5 175.5,339.5 174.5,339.5 174.5,340.3 173.5,340.3 173.5,340.3 172.5,340.3 172.5,341.5 171.5,341.5 171.5,341.7 170.5,341.7 170.5,343.9 169.5,343.9 169.5,343.9 168.5,343.9 168.5,344.7 167.5,344.7 167.5,347.7 166.5,347.7 166.5,347.7 165.5,347.7 165.5,347.7 164.5,347.7 164.5,351.1 163.5,351.1 163.5,351.1 162.5,351.1 162.5,353.4 161.5,353.4 161.5,353.5 160.5,353.5 160.5,353.5 159.5,353.5 159.5,352.9 158.5,352.9 158.5,352.1 157.5,352.1 157.5,352.1 156.5,352.1 156.5,351.1 155.5,351.1 155.5,351.1 154.5,351.1 154.5,349.2 153.5,349.2 153.5,349.2 152.5,349.2 152.5,348.0 151.5,348.0 151.5,348.0 150.5,348.0 150.5,347.5 149.5,347.5 149.5,347.5 148.5,347.5 148.5,346.7 147.5,346.7 147.5,346.7 146.5,346.7 146.5,346.0 145.5,346.0 145.5,346.0 144.5,346.0 144.5,344.3 143.5,344.3 143.5,345.2 142.5,345.2 142.5,345.2 141.5,345.2 141.5,341.0 140.5,341.0 140.5,341.0 139.5,341.0 139.5,337.2 138.5,337.2 138.5,337.2 137.5,337.2 137.5,337.3 136.5,337.3 136.5,335.9 135.5,335.9 135.5,335.7 134.5,335.7 134.5,334.4 133.5,334.4 133.5,334.4 132.5,334.4 132.5,333.7 131.5,333.7 131.5,333.7 130.5,333.7 130.5,335.4 129.5,335.4 129.5,335.4 128.5,335.4 128.5,337.3 127.5,337.3 127.5,337.3 126.5,337.3 126.5,338.5 125.5,338.5 125.5,338.5 124.5,338.5 124.5,339.2 123.5,339.2 123.5,338.3 122.5,338.3 122.5,341.3 121.5,341.3 121.5,341.3 120.5,341.3 120.5,347.2 119.5,347.2 119.5,347.2 118.5,347.2 118.5,347.2 117.5,347.2 117.5,354.4 116.5,354.4 116.5,354.4 115.5,354.4 115.5,354.4 114.5,354.4 114.5,359.6 113.5,359.6 113.5,359.6 112.5,359.6 112.5,359.6 111.5,359.6 111.5,368.5 110.5,368.5 110.5,369.7 109.5,369.7 109.5,369.7 108.5,369.7 108.5,375.4 107.5,375.4 107.5,375.4 106.5,375.4 106.5,375.7 105.5,375.7 105.5,376.7 104.5,376.7 104.5,377.6 103.5,377.6 103.5,378.4 102.5,378.4 102.5,379.2 101.5,379.2 101.5,380.0 100.5,380.0 100.5,380.9 99.5,380.9 99.5,381.7 98.5,381.7 98.5,382.5 97.5,382.5 97.5,382.4 96.5,382.4 96.5,381.6 95.5,381.6 95.5,380.2 94.5,380.2 94.5,378.8 93.5,378.8 93.5,377.4 92.5,377.4 92.5,376.2 91.5,376.2 91.5,375.0 90.5,375.0 90.5,373.8 89.5,373.8 89.5,371.8 88.5,371.8 88.5,367.7 87.5,367.7 87.5,363.2 86.5,363.2 86.5,357.0 85.5,357.0 85.5,350.0 84.5,350.0 84.5,343.0 83.5,343.0 83.5,333.0 82.5,333.0 82.5,323.0 81.5,323.0 81.5,313.5 80.5,313.5 80.5,304.0 79.5,304.0 79.5,301.0 78.5,301.0 78.5,299.0 77.5,299.0 77.5,299.0 76.5,299.0" fill="#2bac48"/>
<path d="M107.2 237.0V273.2M121.6 258.0V291.4M122.2 258.0V291.4M125.8 282.0V292.1M133.0 237.0V247.6M138.2 250.0V284.0M145.5 291.0V303.3M146.8 282.0V298.3M150.5 264.0V300.6M155.2 270.0V295.8M155.8 270.0V295.8M159.4 257.0V287.3M162.2 262.0V286.2M166.2 236.7V276.6M169.3 244.0V270.1M170.7 252.0V266.1M174.3 214.0V273.7M176.5 227.0V260.7M181.2 232.0V276.7M185.3 236.5V275.0M189.4 226.0V270.2M191.5 243.0V274.1M195.8 243.0V274.7M200.0 228.0V271.6M203.0 241.0V269.0M205.0 254.0V271.0M206.8 254.0V271.0M210.5 249.0V272.0M214.0 253.0V275.7M218.0 264.0V277.7M222.2 229.0V258.4M225.7 224.0V251.1M229.0 228.0V260.6M231.9 241.0V259.5M233.6 241.0V263.5M235.8 230.0V263.5M238.6 230.6V259.4M240.5 230.6V259.4M243.6 234.0V249.5M248.2 234.0V249.6M253.6 237.0V253.4M257.2 237.0V264.4M262.2 252.0V275.1M264.4 245.0V276.1M268.7 258.0V278.3M270.8 270.0V277.4M273.0 270.0V277.4M276.7 256.0V278.2M280.0 256.0V265.4M282.9 237.0V253.6M285.0 230.0V249.2M288.2 227.0V246.7M291.2 201.0V252.7M293.6 234.0V254.0M297.2 234.0V254.7M300.0 234.0V255.7M302.9 230.0V252.5M306.2 212.0V248.5M308.0 230.0V247.5M310.8 227.0V250.0M314.0 234.0V252.5M317.2 234.0V254.1M323.0 252.0V258.4M325.8 247.0V257.1M329.1 232.0V257.1M334.4 252.0V263.2M336.5 256.0V263.0M345.7 244.0V251.5M348.6 236.5V244.1M351.2 236.5V244.1M355.0 223.0V250.9M357.9 240.0V247.1M362.2 240.0V245.1M365.5 238.5V251.7M369.8 229.0V249.6M372.6 242.0V246.1M374.4 242.0V246.1M380.0 233.0V245.8M383.7 241.0V245.5M387.2 241.0V245.5M392.2 235.0V253.2M399.4 242.0V256.4M409.3 244.0V248.4M417.2 246.5V253.7M427.2 247.0V251.6M437.2 246.5V252.5M447.2 242.0V255.8M458.7 257.0V261.1" stroke="#ffffff" stroke-opacity="0.3" stroke-width="0.7" fill="none"/>
<polygon points="76.5,274.0 77.5,274.0 77.5,268.0 78.5,268.0 78.5,260.0 79.5,260.0 79.5,260.3 80.5,260.3 80.5,260.7 81.5,260.7 81.5,261.0 82.5,261.0 82.5,278.0 83.5,278.0 83.5,286.0 84.5,286.0 84.5,293.0 85.5,293.0 85.5,300.0 86.5,300.0 86.5,305.0 87.5,305.0 87.5,308.1 88.5,308.1 88.5,312.3 89.5,312.3 89.5,318.2 90.5,318.2 90.5,324.1 91.5,324.1 91.5,329.0 92.5,329.0 92.5,333.0 93.5,333.0 93.5,337.0 94.5,337.0 94.5,339.6 95.5,339.6 95.5,341.3 96.5,341.3 96.5,343.0 97.5,343.0 97.5,343.9 98.5,343.9 98.5,344.2 99.5,344.2 99.5,337.0 100.5,337.0 100.5,324.4 101.5,324.4 101.5,312.3 102.5,312.3 102.5,297.0 103.5,297.0 103.5,280.0 104.5,280.0 104.5,274.8 105.5,274.8 105.5,274.8 106.5,274.8 106.5,274.2 107.5,274.2 107.5,274.2 108.5,274.2 108.5,274.2 109.5,274.2 109.5,274.2 110.5,274.2 110.5,274.2 111.5,274.2 111.5,274.2 112.5,274.2 112.5,274.2 113.5,274.2 113.5,273.2 114.5,273.2 114.5,273.2 115.5,273.2 115.5,273.2 116.5,273.2 116.5,273.2 117.5,273.2 117.5,281.3 118.5,281.3 118.5,281.3 119.5,281.3 119.5,281.3 120.5,281.3 120.5,292.4 121.5,292.4 121.5,292.6 122.5,292.6 122.5,292.7 123.5,292.7 123.5,293.4 124.5,293.4 124.5,293.5 125.5,293.5 125.5,293.1 126.5,293.1 126.5,293.2 127.5,293.2 127.5,293.2 128.5,293.2 128.5,278.0 129.5,278.0 129.5,278.0 130.5,278.0 130.5,249.5 131.5,249.5 131.5,249.5 132.5,249.5 132.5,248.6 133.5,248.6 133.5,248.6 134.5,248.6 134.5,248.6 135.5,248.6 135.5,248.6 136.5,248.6 136.5,285.0 137.5,285.0 137.5,285.0 138.5,285.0 138.5,285.0 139.5,285.0 139.5,304.3 140.5,304.3 140.5,303.7 141.5,303.7 141.5,303.7 142.5,303.7 142.5,303.7 143.5,303.7 143.5,304.3 144.5,304.3 144.5,304.3 145.5,304.3 145.5,304.3 146.5,304.3 146.5,299.3 147.5,299.3 147.5,301.6 148.5,301.6 148.5,301.6 149.5,301.6 149.5,301.6 150.5,301.6 150.5,297.6 151.5,297.6 151.5,296.7 152.5,296.7 152.5,296.7 153.5,296.7 153.5,296.8 154.5,296.8 154.5,296.8 155.5,296.8 155.5,296.8 156.5,296.8 156.5,288.3 157.5,288.3 157.5,288.3 158.5,288.3 158.5,288.3 159.5,288.3 159.5,286.3 160.5,286.3 160.5,287.2 161.5,287.2 161.5,287.2 162.5,287.2 162.5,281.0 163.5,281.0 163.5,281.0 164.5,281.0 164.5,277.6 165.5,277.6 165.5,277.6 166.5,277.6 166.5,277.6 167.5,277.6 167.5,271.1 168.5,271.1 168.5,271.1 169.5,271.1 169.5,269.1 170.5,269.1 170.5,267.1 171.5,267.1 171.5,267.9 172.5,267.9 172.5,274.9 173.5,274.9 173.5,274.7 174.5,274.7 174.5,261.7 175.5,261.7 175.5,261.7 176.5,261.7 176.5,269.7 177.5,269.7 177.5,270.2 178.5,270.2 178.5,270.2 179.5,270.2 179.5,277.7 180.5,277.7 180.5,277.7 181.5,277.7 181.5,276.3 182.5,276.3 182.5,276.0 183.5,276.0 183.5,276.0 184.5,276.0 184.5,276.0 185.5,276.0 185.5,269.8 186.5,269.8 186.5,269.8 187.5,269.8 187.5,271.2 188.5,271.2 188.5,272.8 189.5,272.8 189.5,272.8 190.5,272.8 190.5,275.1 191.5,275.1 191.5,275.1 192.5,275.1 192.5,275.0 193.5,275.0 193.5,275.7 194.5,275.7 194.5,275.7 195.5,275.7 195.5,275.7 196.5,275.7 196.5,276.9 197.5,276.9 197.5,276.9 198.5,276.9 198.5,272.6 199.5,272.6 199.5,272.6 200.5,272.6 200.5,270.0 201.5,270.0 201.5,270.0 202.5,270.0 202.5,270.0 203.5,270.0 203.5,272.0 204.5,272.0 204.5,272.0 205.5,272.0 205.5,272.0 206.5,272.0 206.5,273.5 207.5,273.5 207.5,273.5 208.5,273.5 208.5,273.0 209.5,273.0 209.5,274.9 210.5,274.9 210.5,274.9 211.5,274.9 211.5,277.1 212.5,277.1 212.5,277.1 213.5,277.1 213.5,276.7 214.5,276.7 214.5,279.5 215.5,279.5 215.5,279.5 216.5,279.5 216.5,278.7 217.5,278.7 217.5,279.7 218.5,279.7 218.5,278.4 219.5,278.4 219.5,258.4 220.5,258.4 220.5,259.4 221.5,259.4 221.5,259.4 222.5,259.4 222.5,252.4 223.5,252.4 223.5,252.4 224.5,252.4 224.5,252.1 225.5,252.1 225.5,252.1 226.5,252.1 226.5,254.6 227.5,254.6 227.5,261.6 228.5,261.6 228.5,261.6 229.5,261.6 229.5,260.5 230.5,260.5 230.5,260.5 231.5,260.5 231.5,260.5 232.5,260.5 232.5,266.5 233.5,266.5 233.5,264.5 234.5,264.5 234.5,264.5 235.5,264.5 235.5,265.1 236.5,265.1 236.5,265.1 237.5,265.1 237.5,260.4 238.5,260.4 238.5,260.4 239.5,260.4 239.5,260.4 240.5,260.4 240.5,255.5 241.5,255.5 241.5,255.5 242.5,255.5 242.5,250.5 243.5,250.5 243.5,250.5 244.5,250.5 244.5,250.6 245.5,250.6 245.5,250.6 246.5,250.6 246.5,250.6 247.5,250.6 247.5,252.7 248.5,252.7 248.5,252.7 249.5,252.7 249.5,254.4 250.5,254.4 250.5,254.4 251.5,254.4 251.5,254.4 252.5,254.4 252.5,254.4 253.5,254.4 253.5,262.3 254.5,262.3 254.5,262.3 255.5,262.3 255.5,265.4 256.5,265.4 256.5,265.4 257.5,265.4 257.5,265.4 258.5,265.4 258.5,266.5 259.5,266.5 259.5,276.5 260.5,276.5 260.5,276.1 261.5,276.1 261.5,277.1 262.5,277.1 262.5,277.1 263.5,277.1 263.5,277.2 264.5,277.2 264.5,279.2 265.5,279.2 265.5,278.4 266.5,278.4 266.5,278.4 267.5,278.4 267.5,279.3 268.5,279.3 268.5,279.3 269.5,279.3 269.5,279.3 270.5,279.3 270.5,278.4 271.5,278.4 271.5,278.4 272.5,278.4 272.5,278.4 273.5,278.4 273.5,280.2 274.5,280.2 274.5,279.9 275.5,279.9 275.5,279.2 276.5,279.2 276.5,281.7 277.5,281.7 277.5,281.7 278.5,281.7 278.5,266.4 279.5,266.4 279.5,266.4 280.5,266.4 280.5,265.6 281.5,265.6 281.5,254.6 282.5,254.6 282.5,255.2 283.5,255.2 283.5,255.2 284.5,255.2 284.5,250.2 285.5,250.2 285.5,247.7 286.5,247.7 286.5,247.7 287.5,247.7 287.5,247.7 288.5,247.7 288.5,247.7 289.5,247.7 289.5,253.7 290.5,253.7 290.5,253.7 291.5,253.7 291.5,255.4 292.5,255.4 292.5,255.4 293.5,255.4 293.5,255.0 294.5,255.0 294.5,255.0 295.5,255.0 295.5,255.7 296.5,255.7 296.5,256.2 297.5,256.2 297.5,256.2 298.5,256.2 298.5,256.7 299.5,256.7 299.5,256.7 300.5,256.7 300.5,253.5 301.5,253.5 301.5,253.5 302.5,253.5 302.5,253.5 303.5,253.5 303.5,252.5 304.5,252.5 304.5,252.5 305.5,252.5 305.5,249.5 306.5,249.5 306.5,249.5 307.5,249.5 307.5,248.5 308.5,248.5 308.5,248.5 309.5,248.5 309.5,251.0 310.5,251.0 310.5,251.0 311.5,251.0 311.5,253.5 312.5,253.5 312.5,253.5 313.5,253.5 313.5,253.5 314.5,253.5 314.5,253.5 315.5,253.5 315.5,255.1 316.5,255.1 316.5,255.1 317.5,255.1 317.5,256.5 318.5,256.5 318.5,256.5 319.5,256.5 319.5,256.5 320.5,256.5 320.5,259.5 321.5,259.5 321.5,259.4 322.5,259.4 322.5,259.4 323.5,259.4 323.5,259.4 324.5,259.4 324.5,259.4 325.5,259.4 325.5,258.1 326.5,258.1 326.5,258.1 327.5,258.1 327.5,258.1 328.5,258.1 328.5,259.8 329.5,259.8 329.5,260.8 330.5,260.8 330.5,259.3 331.5,259.3 331.5,264.3 332.5,264.3 332.5,264.2 333.5,264.2 333.5,264.2 334.5,264.2 334.5,264.2 335.5,264.2 335.5,264.0 336.5,264.0 336.5,264.0 337.5,264.0 337.5,265.1 338.5,265.1 338.5,265.1 339.5,265.1 339.5,265.1 340.5,265.1 340.5,263.7 341.5,263.7 341.5,250.7 342.5,250.7 342.5,253.3 343.5,253.3 343.5,253.3 344.5,253.3 344.5,252.5 345.5,252.5 345.5,252.5 346.5,252.5 346.5,252.5 347.5,252.5 347.5,252.1 348.5,252.1 348.5,245.1 349.5,245.1 349.5,245.1 350.5,245.1 350.5,245.1 351.5,245.1 351.5,245.3 352.5,245.3 352.5,245.3 353.5,245.3 353.5,251.9 354.5,251.9 354.5,251.9 355.5,251.9 355.5,252.6 356.5,252.6 356.5,248.1 357.5,248.1 357.5,248.1 358.5,248.1 358.5,246.0 359.5,246.0 359.5,246.0 360.5,246.0 360.5,246.1 361.5,246.1 361.5,246.1 362.5,246.1 362.5,246.1 363.5,246.1 363.5,252.6 364.5,252.6 364.5,254.7 365.5,254.7 365.5,252.7 366.5,252.7 366.5,250.8 367.5,250.8 367.5,250.8 368.5,250.8 368.5,250.8 369.5,250.8 369.5,250.6 370.5,250.6 370.5,246.1 371.5,246.1 371.5,247.1 372.5,247.1 372.5,247.1 373.5,247.1 373.5,247.1 374.5,247.1 374.5,247.1 375.5,247.1 375.5,247.3 376.5,247.3 376.5,247.3 377.5,247.3 377.5,246.8 378.5,246.8 378.5,246.8 379.5,246.8 379.5,246.8 380.5,246.8 380.5,246.8 381.5,246.8 381.5,246.9 382.5,246.9 382.5,246.9 383.5,246.9 383.5,246.5 384.5,246.5 384.5,246.5 385.5,246.5 385.5,246.5 386.5,246.5 386.5,246.9 387.5,246.9 387.5,252.9 388.5,252.9 388.5,252.9 389.5,252.9 389.5,252.9 390.5,252.9 390.5,254.2 391.5,254.2 391.5,254.2 392.5,254.2 392.5,257.4 393.5,257.4 393.5,257.4 394.5,257.4 394.5,257.4 395.5,257.4 395.5,257.2 396.5,257.2 396.5,257.2 397.5,257.2 397.5,257.4 398.5,257.4 398.5,257.4 399.5,257.4 399.5,257.4 400.5,257.4 400.5,247.9 401.5,247.9 401.5,249.1 402.5,249.1 402.5,249.1 403.5,249.1 403.5,254.6 404.5,254.6 404.5,254.6 405.5,254.6 405.5,253.4 406.5,253.4 406.5,249.4 407.5,249.4 407.5,249.4 408.5,249.4 408.5,249.4 409.5,249.4 409.5,252.7 410.5,252.7 410.5,252.7 411.5,252.7 411.5,252.8 412.5,252.8 412.5,252.3 413.5,252.3 413.5,252.3 414.5,252.3 414.5,252.3 415.5,252.3 415.5,254.7 416.5,254.7 416.5,254.7 417.5,254.7 417.5,254.7 418.5,254.7 418.5,255.5 419.5,255.5 419.5,255.5 420.5,255.5 420.5,255.5 421.5,255.5 421.5,251.5 422.5,251.5 422.5,252.6 423.5,252.6 423.5,252.6 424.5,252.6 424.5,252.6 425.5,252.6 425.5,252.6 426.5,252.6 426.5,258.8 427.5,258.8 427.5,258.8 428.5,258.8 428.5,260.8 429.5,260.8 429.5,259.7 430.5,259.7 430.5,259.7 431.5,259.7 431.5,253.7 432.5,253.7 432.5,253.7 433.5,253.7 433.5,253.5 434.5,253.5 434.5,253.5 435.5,253.5 435.5,253.5 436.5,253.5 436.5,253.5 437.5,253.5 437.5,256.7 438.5,256.7 438.5,256.7 439.5,256.7 439.5,252.7 440.5,252.7 440.5,252.7 441.5,252.7 441.5,253.1 442.5,253.1 442.5,257.1 443.5,257.1 443.5,256.8 444.5,256.8 444.5,256.8 445.5,256.8 445.5,256.8 446.5,256.8 446.5,256.8 447.5,256.8 447.5,251.5 448.5,251.5 448.5,251.5 449.5,251.5 449.5,251.5 450.5,251.5 450.5,254.0 451.5,254.0 451.5,252.7 452.5,252.7 452.5,252.7 453.5,252.7 453.5,252.7 454.5,252.7 454.5,253.1 455.5,253.1 455.5,253.1 456.5,253.1 456.5,262.6 457.5,262.6 457.5,262.6 458.5,262.6 458.5,262.1 459.5,262.1 459.5,255.1 460.5,255.1 460.5,255.5 461.5,255.5 461.5,249.0 462.5,249.0 462.5,249.0 463.5,249.0 463.5,248.5 464.5,248.5 464.5,248.5 465.5,248.5 465.5,255.0 466.5,255.0 466.5,254.4 467.5,254.4 467.5,254.4 468.5,254.4 468.5,249.7 469.5,249.7 469.5,249.7 470.5,249.7 470.5,249.7 471.5,249.7 471.5,249.7 472.5,249.7 472.5,250.3 473.5,250.3 473.5,251.8 474.5,251.8 474.5,251.8 475.5,251.8 475.5,251.8 476.5,251.8 476.5,253.2 477.5,253.2 477.5,253.2 478.5,253.2 478.5,251.1 479.5,251.1 479.5,251.1 480.5,251.1 480.5,251.1 481.5,251.1 481.5,251.1 482.5,251.1 482.5,248.1 483.5,248.1 483.5,248.1 484.5,248.1 484.5,249.0 485.5,249.0 485.5,249.0 486.5,249.0 486.5,249.7 487.5,249.7 487.5,249.7 488.5,249.7 488.5,253.0 489.5,253.0 489.5,253.0 490.5,253.0 490.5,255.0 491.5,255.0 491.5,253.8 492.5,253.8 492.5,252.8 493.5,252.8 493.5,254.4 494.5,254.4 494.5,254.4 495.5,254.4 495.5,251.4 496.5,251.4 496.5,249.6 497.5,249.6 497.5,249.6 498.5,249.6 498.5,249.6 499.5,249.6 499.5,250.0 500.5,250.0 500.5,250.0 501.5,250.0 501.5,250.0 502.5,250.0 502.5,250.0 503.5,250.0 503.5,250.7 504.5,250.7 504.5,250.7 505.5,250.7 505.5,250.7 506.5,250.7 506.5,249.8 507.5,249.8 507.5,250.8 508.5,250.8 508.5,250.8 509.5,250.8 509.5,248.8 510.5,248.8 510.5,250.1 511.5,250.1 511.5,250.1 512.5,250.1 512.5,250.2 513.5,250.2 513.5,248.2 514.5,248.2 514.5,248.2 515.5,248.2 515.5,245.6 516.5,245.6 516.5,245.6 517.5,245.6 517.5,245.2 518.5,245.2 518.5,245.2 519.5,245.2 519.5,245.2 520.5,245.2 520.5,245.5 521.5,245.5 521.5,245.5 522.5,245.5 522.5,245.5 523.5,245.5 523.5,245.0 524.5,245.0 524.5,245.0 525.5,245.0 525.5,242.5 526.5,242.5 526.5,242.5 527.5,242.5 527.5,243.7 528.5,243.7 528.5,240.7 529.5,240.7 529.5,239.5 530.5,239.5 530.5,239.5 531.5,239.5 531.5,240.2 532.5,240.2 532.5,240.2 533.5,240.2 533.5,241.4 534.5,241.4 534.5,243.2 535.5,243.2 535.5,244.4 536.5,244.4 536.5,242.3 537.5,242.3 537.5,242.3 538.5,242.3 538.5,242.3 539.5,242.3 539.5,242.3 540.5,242.3 540.5,246.4 541.5,246.4 541.5,246.4 542.5,246.4 542.5,246.4 543.5,246.4 543.5,248.4 544.5,248.4 544.5,248.4 545.5,248.4 545.5,248.4 546.5,248.4 546.5,249.5 547.5,249.5 547.5,249.5 548.5,249.5 548.5,249.5 549.5,249.5 549.5,247.0 550.5,247.0 550.5,247.0 551.5,247.0 551.5,246.5 552.5,246.5 552.5,246.5 553.5,246.5 553.5,245.7 554.5,245.7 554.5,245.7 555.5,245.7 555.5,244.7 556.5,244.7 556.5,243.9 557.5,243.9 557.5,243.9 558.5,243.9 558.5,243.4 559.5,243.4 559.5,243.4 560.5,243.4 560.5,245.1 561.5,245.1 561.5,245.1 562.5,245.1 562.5,245.1 563.5,245.1 563.5,240.0 564.5,240.0 564.5,240.0 565.5,240.0 565.5,241.9 566.5,241.9 566.5,238.9 567.5,238.9 567.5,238.9 568.5,238.9 568.5,238.6 569.5,238.6 569.5,228.6 570.5,228.6 570.5,228.6 571.5,228.6 571.5,228.6 572.5,228.6 572.5,228.0 573.5,228.0 573.5,228.0 574.5,228.0 574.5,228.0 575.5,228.0 575.5,231.0 576.5,231.0 576.5,230.7 577.5,230.7 577.5,230.7 578.5,230.7 578.5,232.3 579.5,232.3 579.5,232.3 580.5,232.3 580.5,235.3 581.5,235.3 581.5,235.3 582.5,235.3 582.5,233.7 583.5,233.7 583.5,233.7 584.5,233.7 584.5,261.9 583.5,261.9 583.5,261.9 582.5,261.9 582.5,262.9 581.5,262.9 581.5,262.9 580.5,262.9 580.5,263.9 579.5,263.9 579.5,262.9 578.5,262.9 578.5,262.9 577.5,262.9 577.5,264.2 576.5,264.2 576.5,264.2 575.5,264.2 575.5,263.7 574.5,263.7 574.5,262.6 573.5,262.6 573.5,262.6 572.5,262.6 572.5,262.6 571.5,262.6 571.5,262.6 570.5,262.6 570.5,262.6 569.5,262.6 569.5,266.0 568.5,266.0 568.5,266.0 567.5,266.0 567.5,263.9 566.5,263.9 566.5,266.9 565.5,266.9 565.5,266.9 564.5,266.9 564.5,267.4 563.5,267.4 563.5,274.7 562.5,274.7 562.5,274.7 561.5,274.7 561.5,274.7 560.5,274.7 560.5,275.4 559.5,275.4 559.5,275.8 558.5,275.8 558.5,276.2 557.5,276.2 557.5,276.2 556.5,276.2 556.5,275.4 555.5,275.4 555.5,276.3 554.5,276.3 554.5,276.3 553.5,276.3 553.5,278.0 552.5,278.0 552.5,279.2 551.5,279.2 551.5,277.2 550.5,277.2 550.5,277.6 549.5,277.6 549.5,277.6 548.5,277.6 548.5,277.1 547.5,277.1 547.5,277.1 546.5,277.1 546.5,274.3 545.5,274.3 545.5,274.3 544.5,274.3 544.5,274.3 543.5,274.3 543.5,273.3 542.5,273.3 542.5,273.3 541.5,273.3 541.5,274.1 540.5,274.1 540.5,274.3 539.5,274.3 539.5,274.3 538.5,274.3 538.5,274.7 537.5,274.7 537.5,273.7 536.5,273.7 536.5,273.7 535.5,273.7 535.5,271.6 534.5,271.6 534.5,271.6 533.5,271.6 533.5,270.9 532.5,270.9 532.5,270.9 531.5,270.9 531.5,272.4 530.5,272.4 530.5,270.9 529.5,270.9 529.5,270.9 528.5,270.9 528.5,272.2 527.5,272.2 527.5,272.2 526.5,272.2 526.5,272.2 525.5,272.2 525.5,273.9 524.5,273.9 524.5,273.9 523.5,273.9 523.5,275.7 522.5,275.7 522.5,275.4 521.5,275.4 521.5,275.4 520.5,275.4 520.5,276.6 519.5,276.6 519.5,276.6 518.5,276.6 518.5,277.9 517.5,277.9 517.5,277.9 516.5,277.9 516.5,277.9 515.5,277.9 515.5,278.7 514.5,278.7 514.5,278.7 513.5,278.7 513.5,279.3 512.5,279.3 512.5,279.3 511.5,279.3 511.5,280.3 510.5,280.3 510.5,280.3 509.5,280.3 509.5,281.3 508.5,281.3 508.5,281.3 507.5,281.3 507.5,281.5 506.5,281.5 506.5,282.5 505.5,282.5 505.5,281.7 504.5,281.7 504.5,281.7 503.5,281.7 503.5,280.5 502.5,280.5 502.5,280.1 501.5,280.1 501.5,280.1 500.5,280.1 500.5,279.7 499.5,279.7 499.5,279.7 498.5,279.7 498.5,278.3 497.5,278.3 497.5,278.3 496.5,278.3 496.5,278.5 495.5,278.5 495.5,277.1 494.5,277.1 494.5,277.9 493.5,277.9 493.5,277.9 492.5,277.9 492.5,277.5 491.5,277.5 491.5,277.5 490.5,277.5 490.5,277.1 489.5,277.1 489.5,276.1 488.5,276.1 488.5,276.7 487.5,276.7 487.5,276.7 486.5,276.7 486.5,276.7 485.5,276.7 485.5,277.4 484.5,277.4 484.5,277.4 483.5,277.4 483.5,277.4 482.5,277.4 482.5,277.7 481.5,277.7 481.5,277.2 480.5,277.2 480.5,275.8 479.5,275.8 479.5,275.8 478.5,275.8 478.5,276.4 477.5,276.4 477.5,276.4 476.5,276.4 476.5,278.2 475.5,278.2 475.5,278.6 474.5,278.6 474.5,277.9 473.5,277.9 473.5,284.9 472.5,284.9 472.5,284.9 471.5,284.9 471.5,284.9 470.5,284.9 470.5,285.6 469.5,285.6 469.5,285.6 468.5,285.6 468.5,284.1 467.5,284.1 467.5,284.1 466.5,284.1 466.5,285.6 465.5,285.6 465.5,284.1 464.5,284.1 464.5,283.8 463.5,283.8 463.5,283.8 462.5,283.8 462.5,283.8 461.5,283.8 461.5,286.3 460.5,286.3 460.5,286.3 459.5,286.3 459.5,285.7 458.5,285.7 458.5,285.7 457.5,285.7 457.5,286.2 456.5,286.2 456.5,284.2 455.5,284.2 455.5,284.2 454.5,284.2 454.5,284.2 453.5,284.2 453.5,283.6 452.5,283.6 452.5,283.0 451.5,283.0 451.5,283.0 450.5,283.0 450.5,282.4 449.5,282.4 449.5,282.4 448.5,282.4 448.5,282.2 447.5,282.2 447.5,281.6 446.5,281.6 446.5,283.4 445.5,283.4 445.5,283.4 444.5,283.4 444.5,282.9 443.5,282.9 443.5,282.9 442.5,282.9 442.5,279.6 441.5,279.6 441.5,279.6 440.5,279.6 440.5,280.3 439.5,280.3 439.5,279.9 438.5,279.9 438.5,279.9 437.5,279.9 437.5,279.5 436.5,279.5 436.5,279.0 435.5,279.0 435.5,279.0 434.5,279.0 434.5,285.0 433.5,285.0 433.5,285.8 432.5,285.8 432.5,285.8 431.5,285.8 431.5,285.8 430.5,285.8 430.5,286.6 429.5,286.6 429.5,286.6 428.5,286.6 428.5,286.2 427.5,286.2 427.5,286.2 426.5,286.2 426.5,286.1 425.5,286.1 425.5,286.1 424.5,286.1 424.5,285.5 423.5,285.5 423.5,285.5 422.5,285.5 422.5,283.7 421.5,283.7 421.5,283.1 420.5,283.1 420.5,283.1 419.5,283.1 419.5,283.1 418.5,283.1 418.5,282.2 417.5,282.2 417.5,283.9 416.5,283.9 416.5,283.9 415.5,283.9 415.5,283.3 414.5,283.3 414.5,283.1 413.5,283.1 413.5,283.1 412.5,283.1 412.5,282.0 411.5,282.0 411.5,282.0 410.5,282.0 410.5,282.0 409.5,282.0 409.5,282.0 408.5,282.0 408.5,283.2 407.5,283.2 407.5,283.2 406.5,283.2 406.5,283.2 405.5,283.2 405.5,283.2 404.5,283.2 404.5,282.5 403.5,282.5 403.5,283.4 402.5,283.4 402.5,283.4 401.5,283.4 401.5,283.6 400.5,283.6 400.5,284.7 399.5,284.7 399.5,284.7 398.5,284.7 398.5,284.7 397.5,284.7 397.5,285.7 396.5,285.7 396.5,286.2 395.5,286.2 395.5,286.1 394.5,286.1 394.5,284.9 393.5,284.9 393.5,284.9 392.5,284.9 392.5,281.4 391.5,281.4 391.5,281.4 390.5,281.4 390.5,281.4 389.5,281.4 389.5,281.5 388.5,281.5 388.5,281.5 387.5,281.5 387.5,280.5 386.5,280.5 386.5,280.5 385.5,280.5 385.5,279.5 384.5,279.5 384.5,279.1 383.5,279.1 383.5,278.2 382.5,278.2 382.5,278.2 381.5,278.2 381.5,278.2 380.5,278.2 380.5,276.8 379.5,276.8 379.5,276.8 378.5,276.8 378.5,275.0 377.5,275.0 377.5,276.0 376.5,276.0 376.5,276.0 375.5,276.0 375.5,272.8 374.5,272.8 374.5,272.8 373.5,272.8 373.5,273.4 372.5,273.4 372.5,273.4 371.5,273.4 371.5,274.4 370.5,274.4 370.5,274.8 369.5,274.8 369.5,274.8 368.5,274.8 368.5,276.3 367.5,276.3 367.5,276.3 366.5,276.3 366.5,276.3 365.5,276.3 365.5,277.3 364.5,277.3 364.5,277.3 363.5,277.3 363.5,278.2 362.5,278.2 362.5,278.0 361.5,278.0 361.5,278.0 360.5,278.0 360.5,278.0 359.5,278.0 359.5,278.0 358.5,278.0 358.5,276.4 357.5,276.4 357.5,276.4 356.5,276.4 356.5,274.0 355.5,274.0 355.5,276.1 354.5,276.1 354.5,276.1 353.5,276.1 353.5,275.5 352.5,275.5 352.5,274.6 351.5,274.6 351.5,274.6 350.5,274.6 350.5,275.0 349.5,275.0 349.5,275.0 348.5,275.0 348.5,275.0 347.5,275.0 347.5,275.0 346.5,275.0 346.5,274.8 345.5,274.8 345.5,274.8 344.5,274.8 344.5,290.8 343.5,290.8 343.5,289.1 342.5,289.1 342.5,289.1 341.5,289.1 341.5,299.1 340.5,299.1 340.5,299.2 339.5,299.2 339.5,299.2 338.5,299.2 338.5,294.2 337.5,294.2 337.5,294.2 336.5,294.2 336.5,292.2 335.5,292.2 335.5,293.6 334.5,293.6 334.5,291.8 333.5,291.8 333.5,290.3 332.5,290.3 332.5,290.3 331.5,290.3 331.5,289.5 330.5,289.5 330.5,289.5 329.5,289.5 329.5,287.9 328.5,287.9 328.5,289.5 327.5,289.5 327.5,289.5 326.5,289.5 326.5,288.3 325.5,288.3 325.5,287.6 324.5,287.6 324.5,286.4 323.5,286.4 323.5,286.4 322.5,286.4 322.5,285.2 321.5,285.2 321.5,284.3 320.5,284.3 320.5,282.7 319.5,282.7 319.5,282.7 318.5,282.7 318.5,282.7 317.5,282.7 317.5,283.8 316.5,283.8 316.5,283.8 315.5,283.8 315.5,282.6 314.5,282.6 314.5,282.6 313.5,282.6 313.5,280.6 312.5,280.6 312.5,279.4 311.5,279.4 311.5,279.7 310.5,279.7 310.5,279.7 309.5,279.7 309.5,278.3 308.5,278.3 308.5,279.1 307.5,279.1 307.5,278.1 306.5,278.1 306.5,278.1 305.5,278.1 305.5,278.1 304.5,278.1 304.5,278.1 303.5,278.1 303.5,281.8 302.5,281.8 302.5,281.8 301.5,281.8 301.5,281.8 300.5,281.8 300.5,281.8 299.5,281.8 299.5,281.8 298.5,281.8 298.5,280.7 297.5,280.7 297.5,280.7 296.5,280.7 296.5,280.7 295.5,280.7 295.5,280.2 294.5,280.2 294.5,281.0 293.5,281.0 293.5,280.5 292.5,280.5 292.5,280.5 291.5,280.5 291.5,278.9 290.5,278.9 290.5,278.9 289.5,278.9 289.5,277.9 288.5,277.9 288.5,277.9 287.5,277.9 287.5,277.9 286.5,277.9 286.5,277.9 285.5,277.9 285.5,276.3 284.5,276.3 284.5,280.3 283.5,280.3 283.5,280.3 282.5,280.3 282.5,281.2 281.5,281.2 281.5,293.7 280.5,293.7 280.5,293.7 279.5,293.7 279.5,293.7 278.5,293.7 278.5,299.5 277.5,299.5 277.5,299.5 276.5,299.5 276.5,299.5 275.5,299.5 275.5,301.0 274.5,301.0 274.5,299.4 273.5,299.4 273.5,300.6 272.5,300.6 272.5,300.6 271.5,300.6 271.5,301.3 270.5,301.3 270.5,302.1 269.5,302.1 269.5,302.1 268.5,302.1 268.5,302.1 267.5,302.1 267.5,302.1 266.5,302.1 266.5,302.1 265.5,302.1 265.5,302.8 264.5,302.8 264.5,302.1 263.5,302.1 263.5,302.1 262.5,302.1 262.5,302.1 261.5,302.1 261.5,301.3 260.5,301.3 260.5,299.4 259.5,299.4 259.5,295.4 258.5,295.4 258.5,295.4 257.5,295.4 257.5,292.5 256.5,292.5 256.5,292.5 255.5,292.5 255.5,295.5 254.5,295.5 254.5,295.5 253.5,295.5 253.5,291.5 252.5,291.5 252.5,291.5 251.5,291.5 251.5,287.8 250.5,287.8 250.5,287.8 249.5,287.8 249.5,279.1 248.5,279.1 248.5,279.1 247.5,279.1 247.5,279.1 246.5,279.1 246.5,279.1 245.5,279.1 245.5,282.6 244.5,282.6 244.5,282.9 243.5,282.9 243.5,282.9 242.5,282.9 242.5,286.4 241.5,286.4 241.5,286.4 240.5,286.4 240.5,286.6 239.5,286.6 239.5,286.6 238.5,286.6 238.5,286.6 237.5,286.6 237.5,288.6 236.5,288.6 236.5,288.3 235.5,288.3 235.5,288.3 234.5,288.3 234.5,288.3 233.5,288.3 233.5,287.9 232.5,287.9 232.5,287.9 231.5,287.9 231.5,289.5 230.5,289.5 230.5,285.5 229.5,285.5 229.5,285.5 228.5,285.5 228.5,286.0 227.5,286.0 227.5,282.0 226.5,282.0 226.5,280.3 225.5,280.3 225.5,280.3 224.5,280.3 224.5,281.1 223.5,281.1 223.5,281.1 222.5,281.1 222.5,289.1 221.5,289.1 221.5,289.1 220.5,289.1 220.5,289.1 219.5,289.1 219.5,310.7 218.5,310.7 218.5,310.7 217.5,310.7 217.5,309.8 216.5,309.8 216.5,309.8 215.5,309.8 215.5,310.0 214.5,310.0 214.5,310.0 213.5,310.0 213.5,310.0 212.5,310.0 212.5,310.0 211.5,310.0 211.5,302.0 210.5,302.0 210.5,301.4 209.5,301.4 209.5,301.4 208.5,301.4 208.5,301.4 207.5,301.4 207.5,301.4 206.5,301.4 206.5,301.4 205.5,301.4 205.5,301.8 204.5,301.8 204.5,301.8 203.5,301.8 203.5,298.8 202.5,298.8 202.5,298.8 201.5,298.8 201.5,298.8 200.5,298.8 200.5,301.0 199.5,301.0 199.5,301.0 198.5,301.0 198.5,301.0 197.5,301.0 197.5,302.0 196.5,302.0 196.5,305.0 195.5,305.0 195.5,305.1 194.5,305.1 194.5,305.1 193.5,305.1 193.5,299.6 192.5,299.6 192.5,299.6 191.5,299.6 191.5,299.6 190.5,299.6 190.5,299.5 189.5,299.5 189.5,299.5 188.5,299.5 188.5,298.4 187.5,298.4 187.5,298.4 186.5,298.4 186.5,298.4 185.5,298.4 185.5,298.4 184.5,298.4 184.5,298.4 183.5,298.4 183.5,299.5 182.5,299.5 182.5,299.5 181.5,299.5 181.5,299.3 180.5,299.3 180.5,299.3 179.5,299.3 179.5,299.3 178.5,299.3 178.5,299.7 177.5,299.7 177.5,299.7 176.5,299.7 176.5,299.7 175.5,299.7 175.5,299.7 174.5,299.7 174.5,302.1 173.5,302.1 173.5,302.1 172.5,302.1 172.5,302.1 171.5,302.1 171.5,300.5 170.5,300.5 170.5,300.5 169.5,300.5 169.5,300.5 168.5,300.5 168.5,302.1 167.5,302.1 167.5,302.1 166.5,302.1 166.5,302.1 165.5,302.1 165.5,302.1 164.5,302.1 164.5,316.6 163.5,316.6 163.5,315.0 162.5,315.0 162.5,330.6 161.5,330.6 161.5,330.6 160.5,330.6 160.5,330.6 159.5,330.6 159.5,331.2 158.5,331.2 158.5,331.2 157.5,331.2 157.5,331.2 156.5,331.2 156.5,330.8 155.5,330.8 155.5,330.8 154.5,330.8 154.5,328.8 153.5,328.8 153.5,328.8 152.5,328.8 152.5,329.1 151.5,329.1 151.5,329.1 150.5,329.1 150.5,331.1 149.5,331.1 149.5,331.1 148.5,331.1 148.5,335.7 147.5,335.7 147.5,336.3 146.5,336.3 146.5,338.5 145.5,338.5 145.5,338.0 144.5,338.0 144.5,337.6 143.5,337.6 143.5,337.6 142.5,337.6 142.5,337.6 141.5,337.6 141.5,337.3 140.5,337.3 140.5,338.1 139.5,338.1 139.5,336.1 138.5,336.1 138.5,336.1 137.5,336.1 137.5,336.1 136.5,336.1 136.5,333.7 135.5,333.7 135.5,332.5 134.5,332.5 134.5,313.9 133.5,313.9 133.5,313.9 132.5,313.9 132.5,310.8 131.5,310.8 131.5,310.8 130.5,310.8 130.5,317.6 129.5,317.6 129.5,317.6 128.5,317.6 128.5,320.6 127.5,320.6 127.5,320.6 126.5,320.6 126.5,324.3 125.5,324.3 125.5,324.3 124.5,324.3 124.5,326.3 123.5,326.3 123.5,326.3 122.5,326.3 122.5,329.3 121.5,329.3 121.5,329.3 120.5,329.3 120.5,333.2 119.5,333.2 119.5,333.2 118.5,333.2 118.5,333.4 117.5,333.4 117.5,337.1 116.5,337.1 116.5,337.1 115.5,337.1 115.5,337.1 114.5,337.1 114.5,317.4 113.5,317.4 113.5,317.4 112.5,317.4 112.5,318.1 111.5,318.1 111.5,312.1 110.5,312.1 110.5,311.9 109.5,311.9 109.5,311.9 108.5,311.9 108.5,312.7 107.5,312.7 107.5,312.7 106.5,312.7 106.5,313.6 105.5,313.6 105.5,330.1 104.5,330.1 104.5,358.0 103.5,358.0 103.5,367.0 102.5,367.0 102.5,372.0 101.5,372.0 101.5,376.0 100.5,376.0 100.5,376.6 99.5,376.6 99.5,376.6 98.5,376.6 98.5,376.6 97.5,376.6 97.5,376.0 96.5,376.0 96.5,374.5 95.5,374.5 95.5,373.0 94.5,373.0 94.5,370.5 93.5,370.5 93.5,368.0 92.5,368.0 92.5,365.6 91.5,365.6 91.5,363.8 90.5,363.8 90.5,362.5 89.5,362.5 89.5,361.2 88.5,361.2 88.5,360.0 87.5,360.0 87.5,357.0 86.5,357.0 86.5,354.0 85.5,354.0 85.5,346.0 84.5,346.0 84.5,337.0 83.5,337.0 83.5,331.0 82.5,331.0 82.5,322.0 81.5,322.0 81.5,309.0 80.5,309.0 80.5,303.0 79.5,303.0 79.5,300.0 78.5,300.0 78.5,297.0 77.5,297.0 77.5,290.0 76.5,290.0" fill="#214b75"/>
<rect x="77.1" y="81.9" width="14.9" height="3.8" fill="#b3274d"/>
<rect x="102.9" y="97.0" width="17.2" height="3.8" fill="#b3274d"/>
<rect x="98.9" y="119.7" width="10.2" height="3.8" fill="#b3274d"/>
<rect x="137.4" y="119.7" width="17.7" height="3.8" fill="#b3274d"/>
<rect x="154.1" y="142.4" width="29.6" height="3.8" fill="#b3274d"/>
<rect x="84.8" y="173.1" width="24.5" height="3.8" fill="#b3274d"/>
<rect x="152.8" y="188.4" width="38.8" height="3.8" fill="#b3274d"/>
<rect x="308.4" y="43.9" width="156.4" height="3.8" fill="#b3274d"/>
<rect x="307.4" y="74.1" width="248.4" height="3.8" fill="#b3274d"/>
<rect x="261.6" y="96.9" width="68.5" height="3.8" fill="#b3274d"/>
<rect x="219.7" y="142.3" width="15.9" height="3.8" fill="#b3274d"/>
<rect x="282.3" y="142.3" width="15.9" height="3.8" fill="#b3274d"/>
<rect x="491.1" y="51.3" width="73.1" height="3.8" fill="#b3274d"/>
<rect x="278.7" y="360.8" width="43.2" height="3.6" fill="#b3274d"/>
<rect x="278.7" y="383.8" width="43.2" height="3.6" fill="#214b75"/>
<rect x="278.7" y="407.1" width="43.2" height="3.0" fill="#2bac48"/>
<rect x="63.7" y="8.6" width="520.6" height="416.2" fill="none" stroke="#1f4a75" stroke-width="2.4"/>
<g font-family="'Liberation Sans', Arial, Helvetica, sans-serif" font-weight="bold" fill="#1f4a75" stroke="#1f4a75" stroke-width="0.45" stroke-linejoin="round">
<text transform="translate(55.0,16.7) scale(1.070,1)" text-anchor="end" font-size="16">50</text>
<text transform="translate(55.0,54.2) scale(1.070,1)" text-anchor="end" font-size="16">45</text>
<text transform="translate(55.0,91.7) scale(1.070,1)" text-anchor="end" font-size="16">40</text>
<text transform="translate(55.0,128.9) scale(1.070,1)" text-anchor="end" font-size="16">35</text>
<text transform="translate(55.0,166.4) scale(1.070,1)" text-anchor="end" font-size="16">30</text>
<text transform="translate(55.0,204.6) scale(1.070,1)" text-anchor="end" font-size="16">25</text>
<text transform="translate(55.0,242.7) scale(1.070,1)" text-anchor="end" font-size="16">20</text>
<text transform="translate(55.0,280.2) scale(1.070,1)" text-anchor="end" font-size="16">15</text>
<text transform="translate(55.0,317.4) scale(1.070,1)" text-anchor="end" font-size="16">10</text>
<text transform="translate(55.0,354.9) scale(1.070,1)" text-anchor="end" font-size="16">5</text>
<text transform="translate(55.0,392.7) scale(1.070,1)" text-anchor="end" font-size="16">0</text>
<text transform="translate(55.0,429.2) scale(1.070,1)" text-anchor="end" font-size="16">–5</text>
<text transform="translate(63.4,444.7) scale(1.070,1)" text-anchor="middle" font-size="16">0</text>
<text transform="translate(116.2,444.7) scale(1.070,1)" text-anchor="middle" font-size="16">100</text>
<text transform="translate(166.5,444.7) scale(1.070,1)" text-anchor="middle" font-size="16">200</text>
<text transform="translate(217.9,444.7) scale(1.070,1)" text-anchor="middle" font-size="16">300</text>
<text transform="translate(269.1,444.7) scale(1.070,1)" text-anchor="middle" font-size="16">400</text>
<text transform="translate(323.2,444.7) scale(1.070,1)" text-anchor="middle" font-size="16">500</text>
<text transform="translate(375.2,444.7) scale(1.070,1)" text-anchor="middle" font-size="16">600</text>
<text transform="translate(427.2,444.7) scale(1.070,1)" text-anchor="middle" font-size="16">700</text>
<text transform="translate(479.2,444.7) scale(1.070,1)" text-anchor="middle" font-size="16">800</text>
<text transform="translate(531.1,444.7) scale(1.070,1)" text-anchor="middle" font-size="16">900</text>
<text transform="translate(584.9,444.7) scale(1.070,1)" text-anchor="middle" font-size="16">1000</text>
<text transform="translate(325.0,466.7) scale(1.098,1)" text-anchor="middle" font-size="16">Frequency (MHz)</text>
<text transform="translate(20.6,215.5) rotate(-90) scale(1.085,1)" text-anchor="middle" font-size="16">Amplitude (dBµV/m)</text>
<text transform="translate(69.3,31.3) scale(1.100,1)" text-anchor="start" font-size="16">Vertical Polarization</text>
<text transform="translate(69.0,53.7) scale(1.120,1)" text-anchor="start" font-size="16">Peak Detector</text>
<text transform="translate(332.7,370.6) scale(1.095,1)" text-anchor="start" font-size="16">Class 5 Peak Limit</text>
<text transform="translate(332.8,393.9) scale(1.104,1)" text-anchor="start" font-size="16">Spread Spectrum Mode</text>
<text transform="translate(333.4,416.9) scale(1.085,1)" text-anchor="start" font-size="16">Fixed Frequency Mode</text>
<text transform="translate(20.3,496.3) scale(1.105,1)" text-anchor="start" font-size="16">DC2407A Demo Board</text>
<text transform="translate(20.7,519.7) scale(1.077,1)" text-anchor="start" font-size="16">(With Emi Filter Installed)</text>
<text transform="translate(20.9,542.8) scale(1.091,1)" font-size="16">12 V Input to 5 V OUTPUT1 at 4 A and 3.3 V OUTPUT2 at 4 A, f<tspan font-size="10.5" dy="3">SW</tspan><tspan dy="-3"> = 2 MHz</tspan></text>
</g>
</svg>
</body></html>
